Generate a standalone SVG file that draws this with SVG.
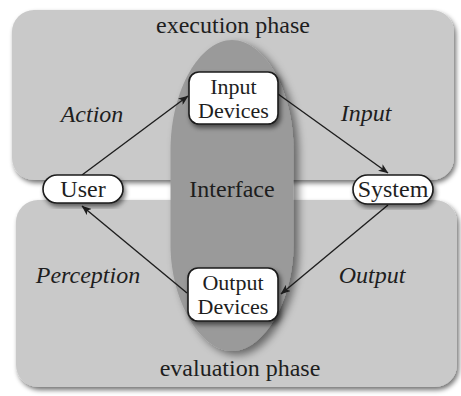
<svg xmlns="http://www.w3.org/2000/svg" width="461" height="396" viewBox="0 0 461 396">
  <style>
    .panel { fill: #c9c9c9; }
    .iface { fill: #9a9a9a; }
    .node { fill: #ffffff; stroke: #1a1a1a; stroke-width: 1.6; }
    .t { font-family: "Liberation Serif", "Times New Roman", serif; font-size: 24px; fill: #1e1e1e; text-anchor: middle; }
    .nt { font-size: 22px; }
    .lbl { font-style: italic; }
    .edge { stroke: #1e1e1e; stroke-width: 1.4; fill: none; marker-end: url(#arrow); }
  </style>
  <defs>
    <filter id="shadow" x="-10%" y="-10%" width="125%" height="130%">
      <feGaussianBlur in="SourceAlpha" stdDeviation="2.5"/>
      <feOffset dx="2" dy="3" result="b"/>
      <feComponentTransfer><feFuncA type="linear" slope="0.55"/></feComponentTransfer>
      <feMerge><feMergeNode/><feMergeNode in="SourceGraphic"/></feMerge>
    </filter>
    <filter id="shadowSide" x="-20%" y="-10%" width="140%" height="125%">
      <feGaussianBlur in="SourceAlpha" stdDeviation="4"/>
      <feOffset dx="5" dy="4" result="b"/>
      <feComponentTransfer><feFuncA type="linear" slope="0.5"/></feComponentTransfer>
      <feMerge><feMergeNode/><feMergeNode in="SourceGraphic"/></feMerge>
    </filter>
    <marker id="arrow" viewBox="0 0 10 8" refX="9.5" refY="4" markerWidth="10" markerHeight="8" markerUnits="userSpaceOnUse" orient="auto">
      <path d="M0,0 L10,4 L0,8 L2.5,4 Z" fill="#1e1e1e"/>
    </marker>
  </defs>

  <rect width="461" height="396" fill="#ffffff"/>

  <!-- phase panels -->
  <g id="execution-phase">
    <rect class="panel" x="12" y="10" width="442" height="170" rx="22" filter="url(#shadow)"/>
    <text class="t" x="233" y="33">execution phase</text>
  </g>
  <g id="evaluation-phase">
    <rect class="panel" x="16" y="200" width="441" height="187" rx="22" filter="url(#shadow)"/>
    <text class="t" x="240" y="376">evaluation phase</text>
  </g>

  <!-- interface band -->
  <g id="interface">
    <path class="iface" filter="url(#shadowSide)" d="M170.5 196 V150 C170.5 90 200 40 232 40 C264 40 293.5 90 293.5 150 V245 C293.5 300 264 351 232 351 C200 351 170.5 300 170.5 245 Z"/>
    <text class="t" x="232" y="197">Interface</text>
  </g>

  <!-- connectors -->
  <g id="connectors">
    <line class="edge" x1="82" y1="175" x2="188" y2="96"/>
    <text class="t lbl" x="92" y="122">Action</text>
    <line class="edge" x1="278" y1="94" x2="388" y2="173"/>
    <text class="t lbl" x="366" y="121">Input</text>
    <line class="edge" x1="388" y1="205" x2="281" y2="294"/>
    <text class="t lbl" x="372" y="283">Output</text>
    <line class="edge" x1="187" y1="293" x2="82" y2="206"/>
    <text class="t lbl" x="88" y="283">Perception</text>
  </g>

  <!-- nodes -->
  <g id="user">
    <rect class="node" x="43" y="175" width="80" height="28" rx="14" filter="url(#shadow)"/>
    <text class="t" x="83" y="197">User</text>
  </g>
  <g id="system">
    <rect class="node" x="353" y="175" width="80" height="29" rx="14.5" filter="url(#shadow)"/>
    <text class="t" x="393" y="197">System</text>
  </g>
  <g id="input-devices">
    <rect class="node" x="189" y="72" width="89" height="52" rx="10" filter="url(#shadow)"/>
    <text class="t nt" x="233.5" y="94">Input</text>
    <text class="t nt" x="233.5" y="118">Devices</text>
  </g>
  <g id="output-devices">
    <rect class="node" x="188" y="268" width="90" height="53" rx="10" filter="url(#shadow)"/>
    <text class="t nt" x="233" y="290">Output</text>
    <text class="t nt" x="233" y="314">Devices</text>
  </g>
</svg>
